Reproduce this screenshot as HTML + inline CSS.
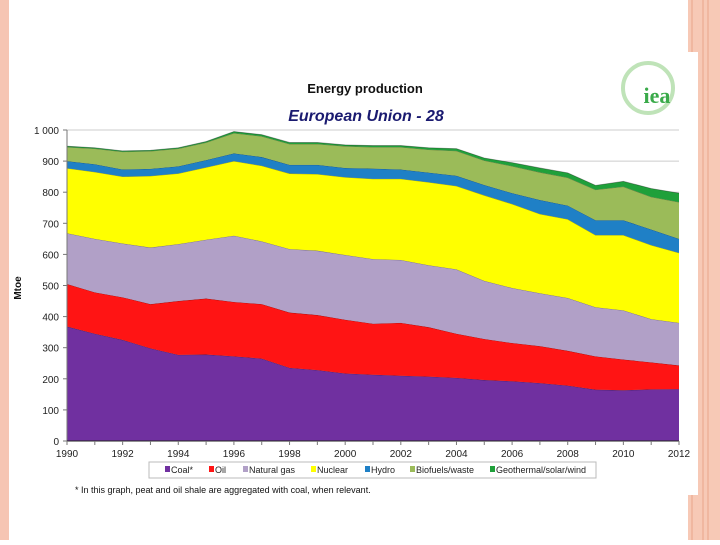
<!DOCTYPE html>
<html><head><meta charset="utf-8"><style>
body{margin:0;width:720px;height:540px;overflow:hidden;background:#fff;font-family:"Liberation Sans",sans-serif}
</style></head><body>
<svg width="720" height="540" id="svg">
<rect x="0" y="0" width="9" height="540" fill="#f6c5b3"/>
<rect x="688" y="0" width="32" height="540" fill="#f7c9b6"/>
<line x1="692" y1="0" x2="692" y2="540" stroke="#e8a58a" stroke-width="1"/>
<line x1="703" y1="0" x2="703" y2="540" stroke="#e8a58a" stroke-width="1"/>
<line x1="708" y1="0" x2="708" y2="540" stroke="#e8a58a" stroke-width="1"/>
<rect x="660" y="52" width="38" height="443" fill="#fff"/>
<text x="365" y="93" text-anchor="middle" font-size="13" font-weight="bold" fill="#111">Energy production</text>
<text x="366" y="121" text-anchor="middle" font-size="16" font-weight="bold" font-style="italic" fill="#1a1a70">European Union - 28</text>
<g>
<circle cx="648" cy="88" r="25" fill="none" stroke="#bfe3b8" stroke-width="4"/>
<text x="657" y="103" text-anchor="middle" font-size="22" font-weight="bold" fill="#3aaa4a" font-family="Liberation Serif,serif">iea</text>
</g>
<text transform="translate(21,288) rotate(-90)" text-anchor="middle" font-size="10" font-weight="bold" fill="#111">Mtoe</text>
<g id="plot"></g>
<g>
<rect x="149" y="462" width="447" height="16" fill="#fff" stroke="#bbb"/>
<g id="legend"></g>
</g>
<text x="75" y="493" font-size="9" fill="#111">* In this graph, peat and oil shale are aggregated with coal, when relevant.</text>
</svg>
<script>
const years=[1990,1991,1992,1993,1994,1995,1996,1997,1998,1999,2000,2001,2002,2003,2004,2005,2006,2007,2008,2009,2010,2011,2012];
const seriesNames=["Coal*","Oil","Natural gas","Nuclear","Hydro","Biofuels/waste","Geothermal/solar/wind"];
const coal=[368,345,325,298,277,278,272,265,235,228,217,213,210,207,203,196,192,186,178,165,163,166,167];
const oil=[137,133,137,142,173,180,175,175,178,177,173,164,170,159,142,132,123,119,112,107,99,87,76];
const gas=[163,172,173,182,183,189,213,202,204,207,208,208,202,199,207,187,177,170,170,158,158,139,137];
const nuclear=[209,215,215,230,227,233,240,243,243,246,250,258,261,267,268,275,270,255,253,232,242,238,225];
const hydro=[23,25,23,23,23,23,25,28,28,30,30,33,30,31,33,33,35,45,44,48,48,50,45];
const biofuels=[45,50,57,57,57,57,65,67,67,67,70,69,72,74,80,79,87,89,90,98,108,105,118];
const geothermal=[3,3,3,3,3,3,5,5,5,5,4,5,5,6,7,8,11,14,15,14,17,27,29];
const yTicks=[0,100,200,300,400,500,600,700,800,900,1000];
const yTickLabels=["0","100","200","300","400","500","600","700","800","900","1 000"];
const xTickYears=[1990,1992,1994,1996,1998,2000,2002,2004,2006,2008,2010,2012];
const colors=["#7030a0","#ff1414","#b1a0c7","#ffff00","#1f80c6","#9bbb59","#1fa03a"];
const series=[coal,oil,gas,nuclear,hydro,biofuels,geothermal];
const X0=67,X1=679,Y0=441,Y1=130;
const xS=y=>X0+(y-1990)/(2012-1990)*(X1-X0);
const yS=v=>Y0-v/1000*(Y0-Y1);
const NS="http://www.w3.org/2000/svg";
const plot=document.getElementById('plot');
function mk(t,a,p){const e=document.createElementNS(NS,t);for(const k in a)e.setAttribute(k,a[k]);(p||plot).appendChild(e);return e;}
yTicks.forEach((v,i)=>{
 if(v>0){const g=mk('line',{x1:X0,x2:X1,y1:yS(v),y2:yS(v),stroke:'#ccc','stroke-width':1});
 
 }
 mk('line',{x1:X0-4,x2:X0,y1:yS(v),y2:yS(v),stroke:'#777'});
 const t=mk('text',{x:X0-8,y:yS(v)+4,'text-anchor':'end','font-size':10,fill:'#222'});
 t.textContent=yTickLabels[i];
 
 
});
let base=years.map(()=>0);
series.forEach((s,si)=>{
 const top=base.map((b,i)=>b+s[i]);
 let d='M'+years.map((y,i)=>xS(y)+','+yS(top[i])).join('L');
 for(let i=years.length-1;i>=0;i--)d+='L'+xS(years[i])+','+yS(base[i]);
 const p=mk('path',{d:d+'Z',fill:colors[si]});
 
 
 mk('polyline',{points:years.map((y,i)=>xS(y)+','+yS(top[i])).join(' '),fill:'none',stroke:'rgba(0,0,0,0.35)','stroke-width':0.8});
 base=top;
});
mk('line',{x1:X0,x2:X0,y1:Y1,y2:Y0,stroke:'#777'});
mk('line',{x1:X0,x2:X1,y1:Y0,y2:Y0,stroke:'#222'});
years.forEach(y=>mk('line',{x1:xS(y),x2:xS(y),y1:Y0,y2:Y0+4,stroke:'#777'}));
xTickYears.forEach(y=>{
 const t=mk('text',{x:xS(y),y:Y0+16,'text-anchor':'middle','font-size':10,fill:'#222'});
 t.textContent=y;
 
 
});
const leg=document.getElementById('legend');
const legX=[165,209,243,311,365,410,490];
seriesNames.forEach((n,i)=>{
 const g=mk('g',{},leg);
 
 
 mk('rect',{x:legX[i],y:466,width:5,height:6,fill:colors[i]},g);
 const t=mk('text',{x:legX[i]+6,y:473,'font-size':9,fill:'#222'},g);t.textContent=n;
});
</script>
</body></html>
